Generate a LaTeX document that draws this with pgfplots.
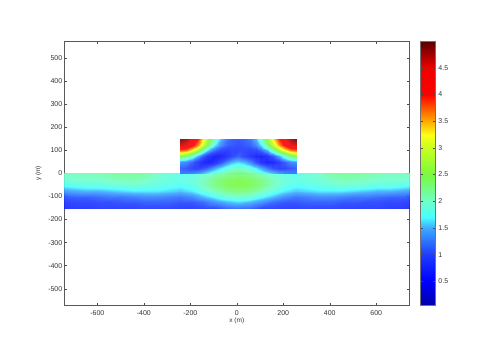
\documentclass[border=0pt]{standalone}
\usepackage{fontspec}
\setmainfont{Liberation Sans}
\usepackage{pgfplots}
\pgfplotsset{compat=1.18}
\pgfplotsset{colormap={refjet}{
  rgb255(0pt)=(0,0,170) rgb255(45pt)=(0,0,255) rgb255(95pt)=(30,60,255)
  rgb255(145pt)=(60,170,255) rgb255(165pt)=(70,255,255) rgb255(195pt)=(110,255,200)
  rgb255(245pt)=(120,250,60) rgb255(295pt)=(200,255,30) rgb255(320pt)=(255,255,20)
  rgb255(345pt)=(255,170,0) rgb255(395pt)=(255,0,0) rgb255(445pt)=(240,0,0)
  rgb255(494pt)=(90,0,0)}}
\begin{document}
\begin{tikzpicture}[x=1pt,y=1pt]
\path[use as bounding box] (0,0) rectangle (495,361);
\begin{axis}[
  at={(64.3pt,55.7pt)}, anchor=south west,
  scale only axis, width=345pt, height=263.6pt,
  xmin=-742, xmax=742, ymin=-572, ymax=572,
  xtick={-600,-400,-200,0,200,400,600},
  ytick={-500,-400,-300,-200,-100,0,100,200,300,400,500},
  scaled ticks=false,
  /pgf/number format/assume math mode=true,
  tick align=inside, tick style={color=black!70, line width=0.4pt},
  major tick length=2.6pt,
  axis line style={color=black!65, line width=0.6pt},
  ticklabel style={font=\fontsize{7}{8}\selectfont, color=black!80},
  label style={font=\fontsize{6.5}{7.5}\selectfont, color=black!80},
  xlabel={x (m)}, ylabel={y (m)},
  xlabel style={yshift=5pt}, ylabel style={yshift=0pt},
  xticklabel style={yshift=-2pt}, yticklabel style={xshift=1.5pt},
  colormap name=refjet,
  point meta min=0.05, point meta max=4.99,
  colorbar,
  colorbar style={
    at={(parent axis.north east)}, anchor=north west, xshift=2.6pt,
    width=15pt, height=263.6pt,
    ytick={0.5,1,1.5,2,2.5,3,3.5,4,4.5},
    yticklabels={0.5,1,1.5,2,2.5,3,3.5,4,4.5},
    yticklabel pos=right,
    axis line style={color=black!55, line width=0.8pt},
    tick align=inside, major tick length=2.2pt,
    yticklabel style={font=\fontsize{7}{8}\selectfont, xshift=-0.5pt, /pgf/number format/assume math mode=true},
  },
]
% lower strip, y=0 down to y=-150
\addplot[surf, shader=interp, opacity=0.9, mesh/cols=31, mesh/ordering=x varies, point meta=explicit] coordinates {
(-742,0)[2.05](-694,0)[2.05](-644,0)[2.05](-594,0)[2.1](-544,0)[2.15](-494,0)[2.2](-444,0)[2.2](-394,0)[2.15](-344,0)[2.0](-294,0)[1.9](-244,0)[1.8](-194,0)[1.8](-144,0)[1.9](-94,0)[2.05](-44,0)[2.2](6,0)[2.25](56,0)[2.2](106,0)[2.05](156,0)[1.9](206,0)[1.8](256,0)[1.8](306,0)[1.9](356,0)[2.0](406,0)[2.15](456,0)[2.2](506,0)[2.2](556,0)[2.15](606,0)[2.1](656,0)[2.05](706,0)[2.05](742,0)[2.05]
(-742,-25)[1.95](-694,-25)[2.0](-644,-25)[2.0](-594,-25)[2.0](-544,-25)[2.05](-494,-25)[2.1](-444,-25)[2.1](-394,-25)[2.05](-344,-25)[1.95](-294,-25)[1.9](-244,-25)[1.85](-194,-25)[1.9](-144,-25)[2.05](-94,-25)[2.25](-44,-25)[2.4](6,-25)[2.45](56,-25)[2.4](106,-25)[2.25](156,-25)[2.05](206,-25)[1.9](256,-25)[1.85](306,-25)[1.9](356,-25)[1.95](406,-25)[2.05](456,-25)[2.1](506,-25)[2.1](556,-25)[2.05](606,-25)[2.0](656,-25)[2.0](706,-25)[2.0](742,-25)[1.95]
(-742,-50)[1.75](-694,-50)[1.8](-644,-50)[1.85](-594,-50)[1.85](-544,-50)[1.9](-494,-50)[1.9](-444,-50)[1.95](-394,-50)[1.9](-344,-50)[1.85](-294,-50)[1.8](-244,-50)[1.75](-194,-50)[1.85](-144,-50)[2.05](-94,-50)[2.3](-44,-50)[2.45](6,-50)[2.5](56,-50)[2.45](106,-50)[2.3](156,-50)[2.05](206,-50)[1.85](256,-50)[1.75](306,-50)[1.8](356,-50)[1.85](406,-50)[1.9](456,-50)[1.95](506,-50)[1.9](556,-50)[1.9](606,-50)[1.85](656,-50)[1.85](706,-50)[1.8](742,-50)[1.75]
(-742,-75)[1.4](-694,-75)[1.45](-644,-75)[1.5](-594,-75)[1.5](-544,-75)[1.55](-494,-75)[1.6](-444,-75)[1.65](-394,-75)[1.65](-344,-75)[1.65](-294,-75)[1.6](-244,-75)[1.55](-194,-75)[1.65](-144,-75)[1.85](-94,-75)[2.05](-44,-75)[2.25](6,-75)[2.3](56,-75)[2.25](106,-75)[2.05](156,-75)[1.85](206,-75)[1.65](256,-75)[1.55](306,-75)[1.6](356,-75)[1.65](406,-75)[1.65](456,-75)[1.65](506,-75)[1.6](556,-75)[1.55](606,-75)[1.5](656,-75)[1.5](706,-75)[1.45](742,-75)[1.4]
(-742,-100)[1.05](-694,-100)[1.1](-644,-100)[1.1](-594,-100)[1.15](-544,-100)[1.2](-494,-100)[1.2](-444,-100)[1.25](-394,-100)[1.3](-344,-100)[1.3](-294,-100)[1.25](-244,-100)[1.2](-194,-100)[1.3](-144,-100)[1.5](-94,-100)[1.7](-44,-100)[1.9](6,-100)[1.95](56,-100)[1.9](106,-100)[1.7](156,-100)[1.5](206,-100)[1.3](256,-100)[1.2](306,-100)[1.25](356,-100)[1.3](406,-100)[1.3](456,-100)[1.25](506,-100)[1.2](556,-100)[1.2](606,-100)[1.15](656,-100)[1.1](706,-100)[1.1](742,-100)[1.05]
(-742,-125)[0.9](-694,-125)[0.95](-644,-125)[0.95](-594,-125)[1.0](-544,-125)[1.0](-494,-125)[1.05](-444,-125)[1.05](-394,-125)[1.1](-344,-125)[1.1](-294,-125)[1.1](-244,-125)[1.05](-194,-125)[1.05](-144,-125)[1.15](-94,-125)[1.35](-44,-125)[1.5](6,-125)[1.6](56,-125)[1.5](106,-125)[1.35](156,-125)[1.15](206,-125)[1.05](256,-125)[1.05](306,-125)[1.1](356,-125)[1.1](406,-125)[1.1](456,-125)[1.05](506,-125)[1.05](556,-125)[1.0](606,-125)[1.0](656,-125)[0.95](706,-125)[0.95](742,-125)[0.9]
(-742,-150)[0.8](-694,-150)[0.85](-644,-150)[0.85](-594,-150)[0.9](-544,-150)[0.9](-494,-150)[0.9](-444,-150)[0.9](-394,-150)[0.95](-344,-150)[0.95](-294,-150)[0.95](-244,-150)[0.9](-194,-150)[0.9](-144,-150)[0.95](-94,-150)[1.0](-44,-150)[1.15](6,-150)[1.2](56,-150)[1.15](106,-150)[1.0](156,-150)[0.95](206,-150)[0.9](256,-150)[0.9](306,-150)[0.95](356,-150)[0.95](406,-150)[0.95](456,-150)[0.9](506,-150)[0.9](556,-150)[0.9](606,-150)[0.9](656,-150)[0.85](706,-150)[0.85](742,-150)[0.8]
};
% upper block, y=150 down to y=0
\addplot[surf, shader=interp, opacity=0.9, mesh/cols=21, mesh/ordering=x varies, point meta=explicit] coordinates {
(-244,150)[4.95](-219,150)[4.8](-194,150)[4.45](-169,150)[3.95](-144,150)[3.3](-119,150)[2.6](-94,150)[2.0](-69,150)[1.5](-44,150)[1.2](-19,150)[1.1](6,150)[1.05](31,150)[1.1](56,150)[1.2](81,150)[1.5](106,150)[2.0](131,150)[2.6](156,150)[3.3](181,150)[3.95](206,150)[4.45](231,150)[4.8](256,150)[4.95]
(-244,125)[4.6](-219,125)[4.5](-194,125)[4.15](-169,125)[3.6](-144,125)[2.95](-119,125)[2.25](-94,125)[1.65](-69,125)[1.3](-44,125)[1.1](-19,125)[1.05](6,125)[1.0](31,125)[1.05](56,125)[1.1](81,125)[1.3](106,125)[1.65](131,125)[2.25](156,125)[2.95](181,125)[3.6](206,125)[4.15](231,125)[4.5](256,125)[4.6]
(-244,100)[3.8](-219,100)[3.7](-194,100)[3.3](-169,100)[2.75](-144,100)[2.1](-119,100)[1.5](-94,100)[1.15](-69,100)[0.95](-44,100)[0.9](-19,100)[0.95](6,100)[0.95](31,100)[0.95](56,100)[0.9](81,100)[0.95](106,100)[1.15](131,100)[1.5](156,100)[2.1](181,100)[2.75](206,100)[3.3](231,100)[3.7](256,100)[3.8]
(-244,75)[2.5](-219,75)[2.35](-194,75)[1.95](-169,75)[1.45](-144,75)[1.05](-119,75)[0.75](-94,75)[0.6](-69,75)[0.65](-44,75)[0.8](-19,75)[0.95](6,75)[1.1](31,75)[0.95](56,75)[0.8](81,75)[0.65](106,75)[0.6](131,75)[0.75](156,75)[1.05](181,75)[1.45](206,75)[1.95](231,75)[2.35](256,75)[2.5]
(-244,50)[1.35](-219,50)[1.3](-194,50)[1.1](-169,50)[0.85](-144,50)[0.65](-119,50)[0.6](-94,50)[0.75](-69,50)[1.0](-44,50)[1.3](-19,50)[1.5](6,50)[1.6](31,50)[1.5](56,50)[1.3](81,50)[1.0](106,50)[0.75](131,50)[0.6](156,50)[0.65](181,50)[0.85](206,50)[1.1](231,50)[1.3](256,50)[1.35]
(-244,25)[1.1](-219,25)[1.05](-194,25)[0.95](-169,25)[0.9](-144,25)[1.0](-119,25)[1.2](-94,25)[1.45](-69,25)[1.65](-44,25)[1.85](-19,25)[1.95](6,25)[2.0](31,25)[1.95](56,25)[1.85](81,25)[1.65](106,25)[1.45](131,25)[1.2](156,25)[1.0](181,25)[0.9](206,25)[0.95](231,25)[1.05](256,25)[1.1]
(-244,0)[1.25](-219,0)[1.25](-194,0)[1.3](-169,0)[1.4](-144,0)[1.55](-119,0)[1.7](-94,0)[1.85](-69,0)[2.0](-44,0)[2.15](-19,0)[2.25](6,0)[2.3](31,0)[2.25](56,0)[2.15](81,0)[2.0](106,0)[1.85](131,0)[1.7](156,0)[1.55](181,0)[1.4](206,0)[1.3](231,0)[1.25](256,0)[1.25]
};
\end{axis}
\end{tikzpicture}
\end{document}
